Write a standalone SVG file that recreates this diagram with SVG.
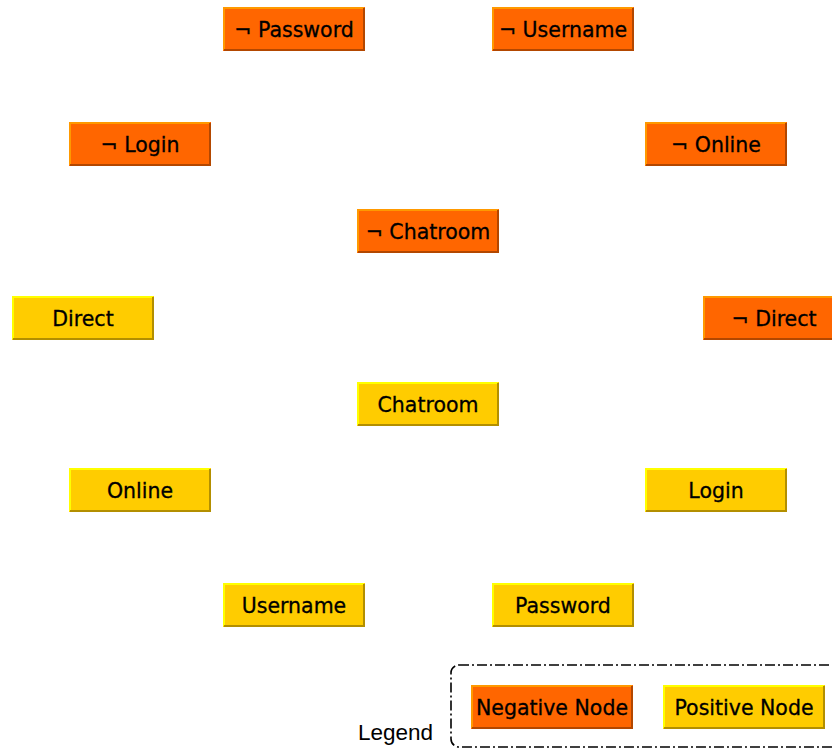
<svg xmlns="http://www.w3.org/2000/svg" width="832" height="749" viewBox="0 0 832 749">
  <style>
    .neg .face { fill: #ff6600; }
    .neg .lit { stroke: #ff9900; }
    .neg .shade { stroke: #b34700; }
    .pos .face { fill: #ffcc00; }
    .pos .lit { stroke: #ffff00; }
    .pos .shade { stroke: #b38f00; }
    .lit, .shade { stroke-width: 2; fill: none; }
    .label { font-family: "DejaVu Sans", "Noto Sans", sans-serif; font-size: 20.5px; fill: #000; stroke: #000; stroke-width: 0.3; text-anchor: middle; }
    .legend-title { font-family: "Liberation Sans", Arial, sans-serif; font-size: 22.5px; fill: #000; }
    .legend-frame { fill: none; stroke: #000; stroke-width: 1.6; stroke-dasharray: 10 3 2 3; }
  </style>

  <g id="connectors"></g>

  <!-- each node: bevelled 142x44 body (light top/left edge, dark bottom/right edge) -->
  <g id="not-password" class="neg" transform="translate(223,7)">
    <rect class="face" width="142" height="44"/><polyline class="lit" points="1,43 1,1 141,1"/><polyline class="shade" points="1,43 141,43 141,1"/>
    <text class="label" x="71" y="29.5">¬ Password</text>
  </g>
  <g id="not-username" class="neg" transform="translate(492,7)">
    <rect class="face" width="142" height="44"/><polyline class="lit" points="1,43 1,1 141,1"/><polyline class="shade" points="1,43 141,43 141,1"/>
    <text class="label" x="71" y="29.5">¬ Username</text>
  </g>
  <g id="not-login" class="neg" transform="translate(69,122)">
    <rect class="face" width="142" height="44"/><polyline class="lit" points="1,43 1,1 141,1"/><polyline class="shade" points="1,43 141,43 141,1"/>
    <text class="label" x="71" y="29.5">¬ Login</text>
  </g>
  <g id="not-online" class="neg" transform="translate(645,122)">
    <rect class="face" width="142" height="44"/><polyline class="lit" points="1,43 1,1 141,1"/><polyline class="shade" points="1,43 141,43 141,1"/>
    <text class="label" x="71" y="29.5">¬ Online</text>
  </g>
  <g id="not-chatroom" class="neg" transform="translate(357,209)">
    <rect class="face" width="142" height="44"/><polyline class="lit" points="1,43 1,1 141,1"/><polyline class="shade" points="1,43 141,43 141,1"/>
    <text class="label" x="71" y="29.5">¬ Chatroom</text>
  </g>
  <g id="direct" class="pos" transform="translate(12,296)">
    <rect class="face" width="142" height="44"/><polyline class="lit" points="1,43 1,1 141,1"/><polyline class="shade" points="1,43 141,43 141,1"/>
    <text class="label" x="71" y="29.5">Direct</text>
  </g>
  <g id="not-direct" class="neg" transform="translate(703,296)">
    <rect class="face" width="142" height="44"/><polyline class="lit" points="1,43 1,1 141,1"/><polyline class="shade" points="1,43 141,43 141,1"/>
    <text class="label" x="71" y="29.5">¬ Direct</text>
  </g>
  <g id="chatroom" class="pos" transform="translate(357,382)">
    <rect class="face" width="142" height="44"/><polyline class="lit" points="1,43 1,1 141,1"/><polyline class="shade" points="1,43 141,43 141,1"/>
    <text class="label" x="71" y="29.5">Chatroom</text>
  </g>
  <g id="online" class="pos" transform="translate(69,468)">
    <rect class="face" width="142" height="44"/><polyline class="lit" points="1,43 1,1 141,1"/><polyline class="shade" points="1,43 141,43 141,1"/>
    <text class="label" x="71" y="29.5">Online</text>
  </g>
  <g id="login" class="pos" transform="translate(645,468)">
    <rect class="face" width="142" height="44"/><polyline class="lit" points="1,43 1,1 141,1"/><polyline class="shade" points="1,43 141,43 141,1"/>
    <text class="label" x="71" y="29.5">Login</text>
  </g>
  <g id="username" class="pos" transform="translate(223,583)">
    <rect class="face" width="142" height="44"/><polyline class="lit" points="1,43 1,1 141,1"/><polyline class="shade" points="1,43 141,43 141,1"/>
    <text class="label" x="71" y="29.5">Username</text>
  </g>
  <g id="password" class="pos" transform="translate(492,583)">
    <rect class="face" width="142" height="44"/><polyline class="lit" points="1,43 1,1 141,1"/><polyline class="shade" points="1,43 141,43 141,1"/>
    <text class="label" x="71" y="29.5">Password</text>
  </g>

  <g id="legend">
    <text class="legend-title" x="358" y="740">Legend</text>
    <rect class="legend-frame" x="451" y="665" width="400" height="82" rx="8" ry="8"/>
    <g id="legend-negative" class="neg" transform="translate(471,685)">
      <rect class="face" width="162" height="44"/><polyline class="lit" points="1,43 1,1 161,1"/><polyline class="shade" points="1,43 161,43 161,1"/>
      <text class="label" x="81" y="29.5">Negative Node</text>
    </g>
    <g id="legend-positive" class="pos" transform="translate(663,685)">
      <rect class="face" width="162" height="44"/><polyline class="lit" points="1,43 1,1 161,1"/><polyline class="shade" points="1,43 161,43 161,1"/>
      <text class="label" x="81" y="29.5">Positive Node</text>
    </g>
  </g>
</svg>
